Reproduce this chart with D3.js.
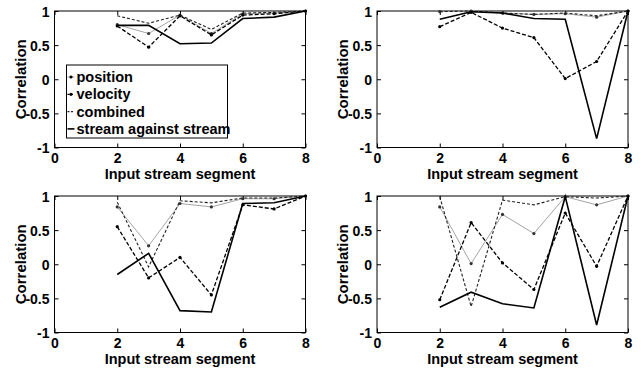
<!DOCTYPE html>
<html>
<head>
<meta charset="utf-8">
<script src="https://cdn.jsdelivr.net/npm/d3@7"></script>
<style>
  body { margin: 0; background: #fff; }
  text { font-family: "Liberation Sans", Arial, sans-serif; font-weight: bold; }
</style>
</head>
<body>
<script>
// segments on the x axis
var segments = [2, 3, 4, 5, 6, 7, 8];
var xTicks = [0, 2, 4, 6, 8];
var yTicks = [-1, -0.5, 0, 0.5, 1];
var seriesNames = ["position", "velocity", "combined", "stream against stream"];

// top left
var positionA = [0.80, 0.67, 0.94, 0.67, 0.96, 0.97, 1.0];
var velocityA = [0.78, 0.47, 0.93, 0.65, 0.94, 0.96, 1.0];
var combinedA = [0.93, 0.82, 0.94, 0.73, 0.97, 0.98, 1.0];
var streamA   = [0.79, 0.79, 0.52, 0.53, 0.89, 0.91, 1.0];

// top right
var positionB = [0.99, 1.0, 0.97, 0.95, 0.96, 0.91, 1.0];
var velocityB = [0.77, 0.98, 0.75, 0.61, 0.01, 0.26, 1.0];
var combinedB = [0.99, 1.0, 0.97, 0.95, 0.97, 0.93, 1.0];
var streamB   = [0.88, 0.99, 0.97, 0.89, 0.88, -0.87, 1.0];

// bottom left
var positionC = [0.84, 0.27, 0.89, 0.84, 0.96, 0.96, 1.0];
var velocityC = [0.55, -0.20, 0.10, -0.45, 0.87, 0.81, 1.0];
var combinedC = [0.91, -0.04, 0.93, 0.90, 0.97, 0.97, 1.0];
var streamC   = [-0.15, 0.16, -0.68, -0.70, 0.89, 0.90, 1.0];

// bottom right
var positionD = [0.84, 0.01, 0.73, 0.45, 0.99, 0.87, 1.0];
var velocityD = [-0.52, 0.61, 0.02, -0.37, 0.75, -0.03, 1.0];
var combinedD = [0.99, -0.62, 0.94, 0.87, 0.99, 0.97, 1.0];
var streamD   = [-0.63, -0.41, -0.58, -0.64, 0.99, -0.89, 1.0];

var panels = [
  {left: 54.5, top: 11,  data: [positionA, velocityA, combinedA, streamA], legend: true},
  {left: 377,  top: 11,  data: [positionB, velocityB, combinedB, streamB]},
  {left: 54.5, top: 196, data: [positionC, velocityC, combinedC, streamC]},
  {left: 377,  top: 196, data: [positionD, velocityD, combinedD, streamD]}
];

var styles = [
  {stroke: "#9a9a9a", width: 0.9, dash: null,  marker: true},
  {stroke: "#000",    width: 1.3, dash: "4,2", marker: true},
  {stroke: "#222",    width: 1.1, dash: "3,2", marker: false},
  {stroke: "#000",    width: 1.6, dash: null,  marker: false}
];

var pw = 251;
var ph = 136.5;

var svg = d3.select("body").append("svg")
  .attr("width", 641)
  .attr("height", 370);

panels.forEach(function(p) {
  var g = svg.append("g").attr("transform", "translate(" + p.left + "," + p.top + ")");

  var x = d3.scaleLinear().domain([0, 8]).range([0, pw]);
  var y = d3.scaleLinear().domain([-1, 1]).range([ph, 0]);

  // box
  g.append("rect").attr("width", pw).attr("height", ph)
    .attr("fill", "none").attr("stroke", "#000").attr("stroke-width", 1);

  // axes, ticks pointing in
  var xAxis = g.append("g").attr("transform", "translate(0," + ph + ")")
    .call(d3.axisBottom(x).tickValues(xTicks).tickSizeInner(-4).tickSizeOuter(0).tickPadding(6));
  var xTop = g.append("g")
    .call(d3.axisTop(x).tickValues(xTicks).tickSizeInner(-4).tickSizeOuter(0).tickFormat(""));
  var yAxis = g.append("g")
    .call(d3.axisLeft(y).tickValues(yTicks).tickSizeInner(-4).tickSizeOuter(0).tickPadding(5)
      .tickFormat(function(d) { return d; }));
  var yRight = g.append("g").attr("transform", "translate(" + pw + ",0)")
    .call(d3.axisRight(y).tickValues(yTicks).tickSizeInner(-4).tickSizeOuter(0).tickFormat(""));

  [xAxis, xTop, yAxis, yRight].forEach(function(a) {
    a.select(".domain").remove();
    a.selectAll("line").attr("stroke", "#000");
    a.selectAll("text").attr("font-size", 14).attr("fill", "#000")
      .style("font-family", "'Liberation Sans', Arial, sans-serif").style("font-weight", "bold");
  });
  yAxis.selectAll("text").attr("dy", "0.36em");

  g.append("text")
    .attr("x", pw / 2).attr("y", ph + 31)
    .attr("text-anchor", "middle").attr("font-size", 14.5)
    .text("Input stream segment");
  g.append("text")
    .attr("transform", "translate(-29," + (ph / 2) + ") rotate(-90)")
    .attr("text-anchor", "middle").attr("font-size", 15)
    .text("Correlation");

  var line = d3.line()
    .x(function(d, i) { return x(segments[i]); })
    .y(function(d) { return y(d); });

  p.data.forEach(function(vals, k) {
    var s = styles[k];
    g.append("path").datum(vals)
      .attr("d", line)
      .attr("fill", "none")
      .attr("stroke", s.stroke)
      .attr("stroke-width", s.width)
      .attr("stroke-dasharray", s.dash);
    if (s.marker) {
      g.selectAll(".m" + k).data(vals).enter().append("circle")
        .attr("cx", function(d, i) { return x(segments[i]); })
        .attr("cy", function(d) { return y(d); })
        .attr("r", 1.6)
        .attr("fill", k === 0 ? "#333" : "#000");
    }
  });

  if (p.legend) {
    var lg = g.append("g").attr("transform", "translate(12,54)");
    lg.append("rect").attr("width", 161).attr("height", 73)
      .attr("fill", "#fff").attr("stroke", "#000").attr("stroke-width", 1);
    seriesNames.forEach(function(name, k) {
      var s = styles[k];
      var ly = 12 + k * 17.3;
      lg.append("line").attr("x1", 1).attr("x2", 8).attr("y1", ly).attr("y2", ly)
        .attr("stroke", s.stroke).attr("stroke-width", s.width)
        .attr("stroke-dasharray", s.dash ? "2,1.5" : null);
      if (s.marker) {
        lg.append("circle").attr("cx", 4.5).attr("cy", ly).attr("r", 1.6).attr("fill", "#000");
      }
      lg.append("text").attr("x", 10).attr("y", ly).attr("dy", "0.35em")
        .attr("font-size", 14.5).text(name);
    });
  }
});
</script>
</body>
</html>
